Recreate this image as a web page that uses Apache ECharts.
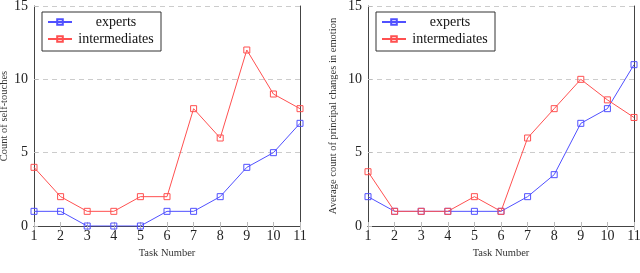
<!DOCTYPE html>
<html><head><meta charset="utf-8">
<script src="https://cdn.jsdelivr.net/npm/echarts@6/dist/echarts.min.js"></script>
<style>html,body{margin:0;padding:0;background:#fff}#c{width:640px;height:273px}</style>
</head><body><div id="c"></div>
<script>
const tasks = ['1','2','3','4','5','6','7','8','9','10','11'];
const yTicks = [0,5,10,15];
const touchExperts = [1,1,0,0,0,1,1,2,4,5,7];
const touchIntermediates = [4,2,1,1,2,2,8,6,12,9,8];
const emoExperts = [2,1,1,1,1,1,2,3.5,7,8,11];
const emoIntermediates = [3.7,1,1,1,2,1,6,8,10,8.6,7.4];
const seriesNames = ['experts','intermediates'];
const yLabels = ['Count of self-touches','Average count of principal changes in emotion'];
const xLabel = 'Task Number';

const BLUE = '#5050ff', RED = '#ff5050';
const FONT = 'Liberation Serif';
const chart = echarts.init(document.getElementById('c'));
const grids = [
  {left:34, top:6, width:266, height:220, outerBoundsMode:'none', containLabel:false},
  {left:368, top:6, width:266, height:220, outerBoundsMode:'none', containLabel:false}
];
function xAx(gi, pos){
  return {type:'category', gridIndex:gi, data:tasks, boundaryGap:false, position:pos,
    name: pos==='bottom'?xLabel:'', nameLocation:'middle', nameGap:22,
    nameTextStyle:{fontFamily:FONT,fontSize:10.5,color:'#333'},
    axisLine:{show:true,lineStyle:{color:'#444',width:1}},
    axisTick:{show:true,inside:true,length:4,alignWithLabel:true,lineStyle:{color:'#bbb'}},
    axisLabel:{show:pos==='bottom',fontFamily:FONT,fontSize:14,color:'#222',margin:3,interval:0},
    splitLine:{show:false}};
}
function yAx(gi, pos){
  return {type:'value', gridIndex:gi, min:0, max:15, interval:5, position:pos,
    name: pos==='left'?yLabels[gi]:'', nameLocation:'middle', nameGap: gi===0?23:29,
    nameTextStyle:{fontFamily:FONT,fontSize:10.5,color:'#333'},
    axisLine:{show:true,lineStyle:{color:'#444',width:1}},
    axisTick:{show:pos==='left',inside:true,length:4,lineStyle:{color:'#bbb'}},
    axisLabel:{show:pos==='left',fontFamily:FONT,fontSize:14,color:'#222',margin:6,
      formatter:v=>yTicks.includes(v)?String(v):''},
    splitLine:{show:pos==='left',lineStyle:{color:'#ccc',type:[5,4],width:1}}};
}
function ser(name, data, color, xi, yi){
  return {name, type:'line', data, xAxisIndex:xi, yAxisIndex:yi,
    symbol:'rect', symbolSize:6, showSymbol:true,
    itemStyle:{color:'rgba(255,255,255,0)', borderColor:color, borderWidth:1},
    lineStyle:{color, width:1}, animation:false};
}
function legend(gi){
  return {show:true, orient:'vertical', left:grids[gi].left+8, top:12,
    borderColor:'#333', borderWidth:1, padding:[3,6,5,5], itemGap:3,
    itemWidth:24, itemHeight:7, data:seriesNames,
    formatter: n => '{c|' + n + '}',
    textStyle:{fontFamily:FONT,fontSize:14,color:'#111',
      rich:{c:{fontFamily:FONT,fontSize:14,color:'#111',width:78,align:'center',lineHeight:14}}}
  };
}
chart.setOption({
  animation:false,
  grid:grids,
  legend:[legend(0), legend(1)],
  xAxis:[xAx(0,'bottom'),xAx(0,'top'),xAx(1,'bottom'),xAx(1,'top')],
  yAxis:[yAx(0,'left'),yAx(0,'right'),yAx(1,'left'),yAx(1,'right')],
  series:[
    ser(seriesNames[0], touchExperts, BLUE, 0, 0),
    ser(seriesNames[1], touchIntermediates, RED, 0, 0),
    ser(seriesNames[0], emoExperts, BLUE, 2, 2),
    ser(seriesNames[1], emoIntermediates, RED, 2, 2)
  ]
});
</script></body></html>
